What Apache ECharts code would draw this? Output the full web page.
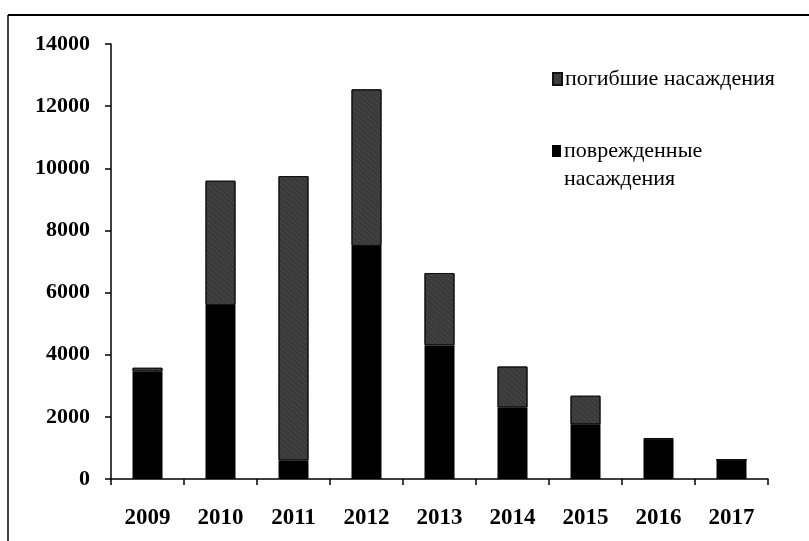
<!DOCTYPE html>
<html>
<head>
<meta charset="utf-8">
<script src="https://cdn.jsdelivr.net/npm/echarts@6/dist/echarts.min.js"></script>
<style>
html,body{margin:0;padding:0;background:#fff;}
#c{width:809px;height:541px;}
</style>
</head>
<body>
<div id="c"></div>
<script>
var years = ['2009','2010','2011','2012','2013','2014','2015','2016','2017'];
var damaged = [3460, 5600, 600, 7500, 4300, 2300, 1760, 1260, 620];
var dead = [120, 4000, 9150, 5040, 2330, 1320, 920, 60, 0];
var yTicks = [0, 2000, 4000, 6000, 8000, 10000, 12000, 14000];
var nameDead = 'погибшие насаждения';
var nameDamaged = 'поврежденные насаждения';

var font = '"Liberation Serif", "DejaVu Serif", serif';
var chart = echarts.init(document.getElementById('c'), null, {renderer: 'canvas'});
var deadStyle = {
  color: '#3a3a3a',
  borderColor: '#111', borderWidth: 1,
  decal: {symbol: 'rect', symbolSize: 0.6, color: 'rgba(255,255,255,0.5)', dashArrayX: [1, 2], dashArrayY: [1, 3], rotation: 0.7}
};
chart.setOption({
  animation: false,
  backgroundColor: '#fff',
  grid: {left: 111, right: 41, top: 44, bottom: 62},
  legend: [{
    orient: 'vertical',
    left: 552, top: 65, padding: 0,
    itemWidth: 9, itemHeight: 12,
    icon: 'rect',
    data: [nameDead],
    textStyle: {fontFamily: font, fontSize: 22, color: '#000', lineHeight: 28, padding: [0,0,0,-2]}
  }, {
    orient: 'vertical',
    left: 552, top: 109, padding: 0,
    itemWidth: 9, itemHeight: 12,
    icon: 'rect',
    data: [nameDamaged],
    formatter: function () { return ' \nповрежденные\nнасаждения'; },
    textStyle: {fontFamily: font, fontSize: 22, color: '#000', lineHeight: 28, padding: [0,0,0,-2]}
  }],
  xAxis: {
    type: 'category',
    data: years,
    axisLine: {lineStyle: {color: '#000', width: 1.5}},
    axisTick: {show: true, length: 6, lineStyle: {color: '#000', width: 1.5}},
    axisLabel: {color: '#000', fontFamily: font, fontSize: 23, fontWeight: 'bold', margin: 28}
  },
  yAxis: {
    type: 'value',
    min: yTicks[0], max: yTicks[yTicks.length - 1], interval: 2000,
    splitLine: {show: false},
    axisLine: {show: true, lineStyle: {color: '#000', width: 1.5}},
    axisTick: {show: true, length: 6, lineStyle: {color: '#000', width: 1.5}},
    axisLabel: {color: '#000', fontFamily: font, fontSize: 22, fontWeight: 'bold', margin: 21,
      formatter: function (v) { return String(v); }}
  },
  series: [
    {
      name: nameDamaged, type: 'bar', stack: 'a', data: damaged, barWidth: 30,
      itemStyle: {color: '#000'}
    },
    {
      name: nameDead, type: 'bar', stack: 'a', data: dead, barWidth: 30,
      itemStyle: deadStyle
    }
  ],
  graphic: [
    {type: 'line', shape: {x1: 8, y1: 15, x2: 809, y2: 15}, style: {stroke: '#000', lineWidth: 2}},
    {type: 'line', shape: {x1: 8, y1: 15, x2: 8, y2: 541}, style: {stroke: '#000', lineWidth: 1.5}}
  ]
});
</script>
</body>
</html>
